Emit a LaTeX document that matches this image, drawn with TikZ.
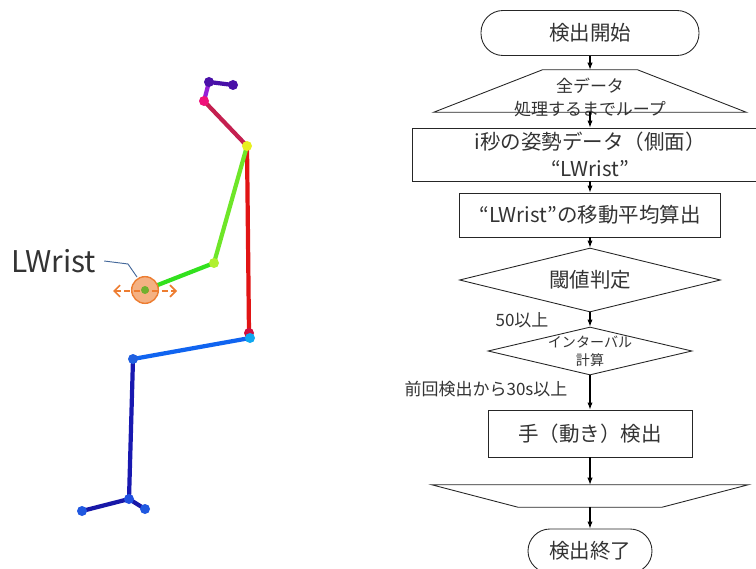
\documentclass[tikz,border=0pt]{standalone}
\usepackage{fontspec}
\setmainfont{Noto Sans CJK JP}
\usetikzlibrary{arrows.meta,calc,shapes.geometric}

\definecolor{txt}{HTML}{333333}
\definecolor{wristline}{HTML}{ED7D31}
\definecolor{wristfill}{HTML}{F4B183}
\definecolor{leader}{HTML}{44689A}

\def\unitpx{0.03cm}

\tikzset{
  flow/.style={draw=black!85, line width=0.75pt, inner sep=0pt, text=txt, align=center,
    font=\fontsize{17.5}{23}\selectfont},
  term/.style={flow, rounded corners=0.66cm},
  frame/.style={inner sep=0pt},
  go/.style={line width=0.9pt, -{Latex[length=6pt,width=4.5pt]}},
  cond/.style={text=txt, inner sep=0pt, font=\fontsize{14.5}{18}\selectfont},
  limb/.style={line width=3.6pt, line cap=round},
}

\begin{document}
\begin{tikzpicture}[x=\unitpx, y=-\unitpx]

\useasboundingbox (0,0) rectangle (756,569);
\clip (0,0) rectangle (756,569);

\def\xc{590}; % flow axis

% ---- skeleton (side view) ----
\coordinate (headL) at (209,82);
\coordinate (headR) at (233,85);
\coordinate (nose) at (204,101);
\coordinate (neck) at (247,146);
\coordinate (elbow) at (214,263);
\coordinate (wrist) at (145,290);
\coordinate (hip) at (249,333);
\coordinate (hipB) at (250,338);
\coordinate (knee) at (133,359);
\coordinate (ankle) at (129,499);
\coordinate (toe) at (82,511);
\coordinate (heel) at (145,509);

\draw[limb, color={rgb,255:red,72;green,16;blue,168}] (headL) -- (headR);
\draw[limb, color={rgb,255:red,150;green,30;blue,215}] (headL) -- (nose);
\draw[limb, color={rgb,255:red,196;green,32;blue,80}] (nose) -- (neck);
\draw[limb, color={rgb,255:red,225;green,20;blue,20}] (neck) -- (hip);
\draw[limb, color={rgb,255:red,110;green,230;blue,40}] (neck) -- (elbow);
\draw[limb, color={rgb,255:red,50;green,225;blue,30}] (elbow) -- (wrist);
\draw[limb, color={rgb,255:red,16;green,100;blue,240}] (hipB) -- (knee);
\draw[limb, color={rgb,255:red,24;green,24;blue,176}] (knee) -- (ankle);
\draw[limb, color={rgb,255:red,24;green,24;blue,168}] (ankle) -- (toe);
\draw[limb, color={rgb,255:red,24;green,24;blue,168}] (ankle) -- (heel);

\fill[color={rgb,255:red,74;green,16;blue,168}] (headL) circle (0.15cm);
\fill[color={rgb,255:red,74;green,16;blue,168}] (headR) circle (0.15cm);
\fill[color={rgb,255:red,240;green,16;blue,122}] (nose) circle (0.15cm);
\fill[color={rgb,255:red,232;green,240;blue,32}] (neck) circle (0.15cm);
\fill[color={rgb,255:red,176;green,240;blue,48}] (elbow) circle (0.15cm);
\fill[color={rgb,255:red,208;green,16;blue,64}] (hip) circle (0.15cm);
\fill[color={rgb,255:red,16;green,168;blue,240}] (hipB) circle (0.15cm);
\fill[color={rgb,255:red,32;green,96;blue,224}] (knee) circle (0.15cm);
\fill[color={rgb,255:red,32;green,80;blue,224}] (ankle) circle (0.15cm);
\fill[color={rgb,255:red,32;green,88;blue,224}] (toe) circle (0.15cm);
\fill[color={rgb,255:red,32;green,88;blue,224}] (heel) circle (0.15cm);

% wrist marker
\filldraw[fill=wristfill, draw=wristline, line width=1.2pt] (wrist) circle (0.4cm);
\draw[wristline, dashed, dash pattern=on 5pt off 3pt, line width=1.4pt,
  {Straight Barb[length=5pt,width=10pt]}-{Straight Barb[length=5pt,width=10pt]}]
  ($(wrist)+(-32,1)$) -- ($(wrist)+(32,1)$);
\fill[color={rgb,255:red,112;green,176;blue,48}] (wrist) circle (0.12cm);

\node[inner xsep=0.24cm, inner ysep=0pt, text=black!80, font=\fontsize{25.5}{30}\selectfont] (lbl) at (53.5,261) {LWrist};
\coordinate (bend) at (128,264);
\coordinate (tip) at (137,277);
\draw[leader, line width=0.8pt] (lbl.east) -- (bend) -- (tip);

% ---- flow chart ----
\node[term, minimum width=218*\unitpx, minimum height=45*\unitpx] (start) at (\xc,33) {検出開始};

\node[frame, minimum width=312*\unitpx, minimum height=42*\unitpx] (loopA) at (\xc,91) {};
\draw[flow] ($(loopA.north)+(-47.5,0)$) -- ($(loopA.north)+(47.5,0)$) -- (loopA.south east) -- (loopA.south west) -- cycle;
\node[text=txt, align=center, inner sep=0pt, font=\fontsize{14.5}{19}\selectfont] (loopAtxt) at ($(loopA)+(0,6.5)$) {全データ\\処理するまでループ};

\node[flow, minimum width=356*\unitpx, minimum height=53*\unitpx] (data) at (\xc,154.5) {i秒の姿勢データ（側面）\\“LWrist”};
\node[flow, minimum width=261*\unitpx, minimum height=44*\unitpx] (avg) at (\xc,215) {“LWrist”の移動平均算出};
\node[flow, diamond, shape aspect=4, minimum width=261*\unitpx, minimum height=64*\unitpx] (thr) at (\xc,280) {閾値判定};

\node[frame, draw=black!85, line width=0.75pt, diamond, minimum width=204*\unitpx, minimum height=48*\unitpx] (intv) at (\xc,351) {};
\node[text=txt, align=center, inner sep=0pt, font=\fontsize{12}{15.5}\selectfont] (intvtxt) at (intv) {インターバル\\計算};

\node[flow, minimum width=204*\unitpx, minimum height=47*\unitpx] (detect) at (\xc,433.5) {手（動き）検出};

\node[frame, minimum width=316*\unitpx, minimum height=22*\unitpx] (loopB) at (\xc,496) {};
\draw[flow] (loopB.north west) -- (loopB.north east) -- ($(loopB.south)+(72,0)$) -- ($(loopB.south)+(-72,0)$) -- cycle;

\node[term, minimum width=124*\unitpx, minimum height=44*\unitpx] (stop) at (\xc,551) {検出終了};

\draw[go] (start) -- (loopA);
\draw[go] (loopA) -- (data);
\draw[go] (data) -- (avg);
\draw[go] (avg) -- (thr);
\draw[go] (thr) -- (intv);
\draw[go] (intv) -- (detect);
\draw[go] (detect) -- (loopB);
\draw[go] (loopB) -- (stop);

\node[cond] (lab50) at (522,320) {50以上};
\node[cond] (lab30) at (486,389) {前回検出から30s以上};

\end{tikzpicture}
\end{document}
